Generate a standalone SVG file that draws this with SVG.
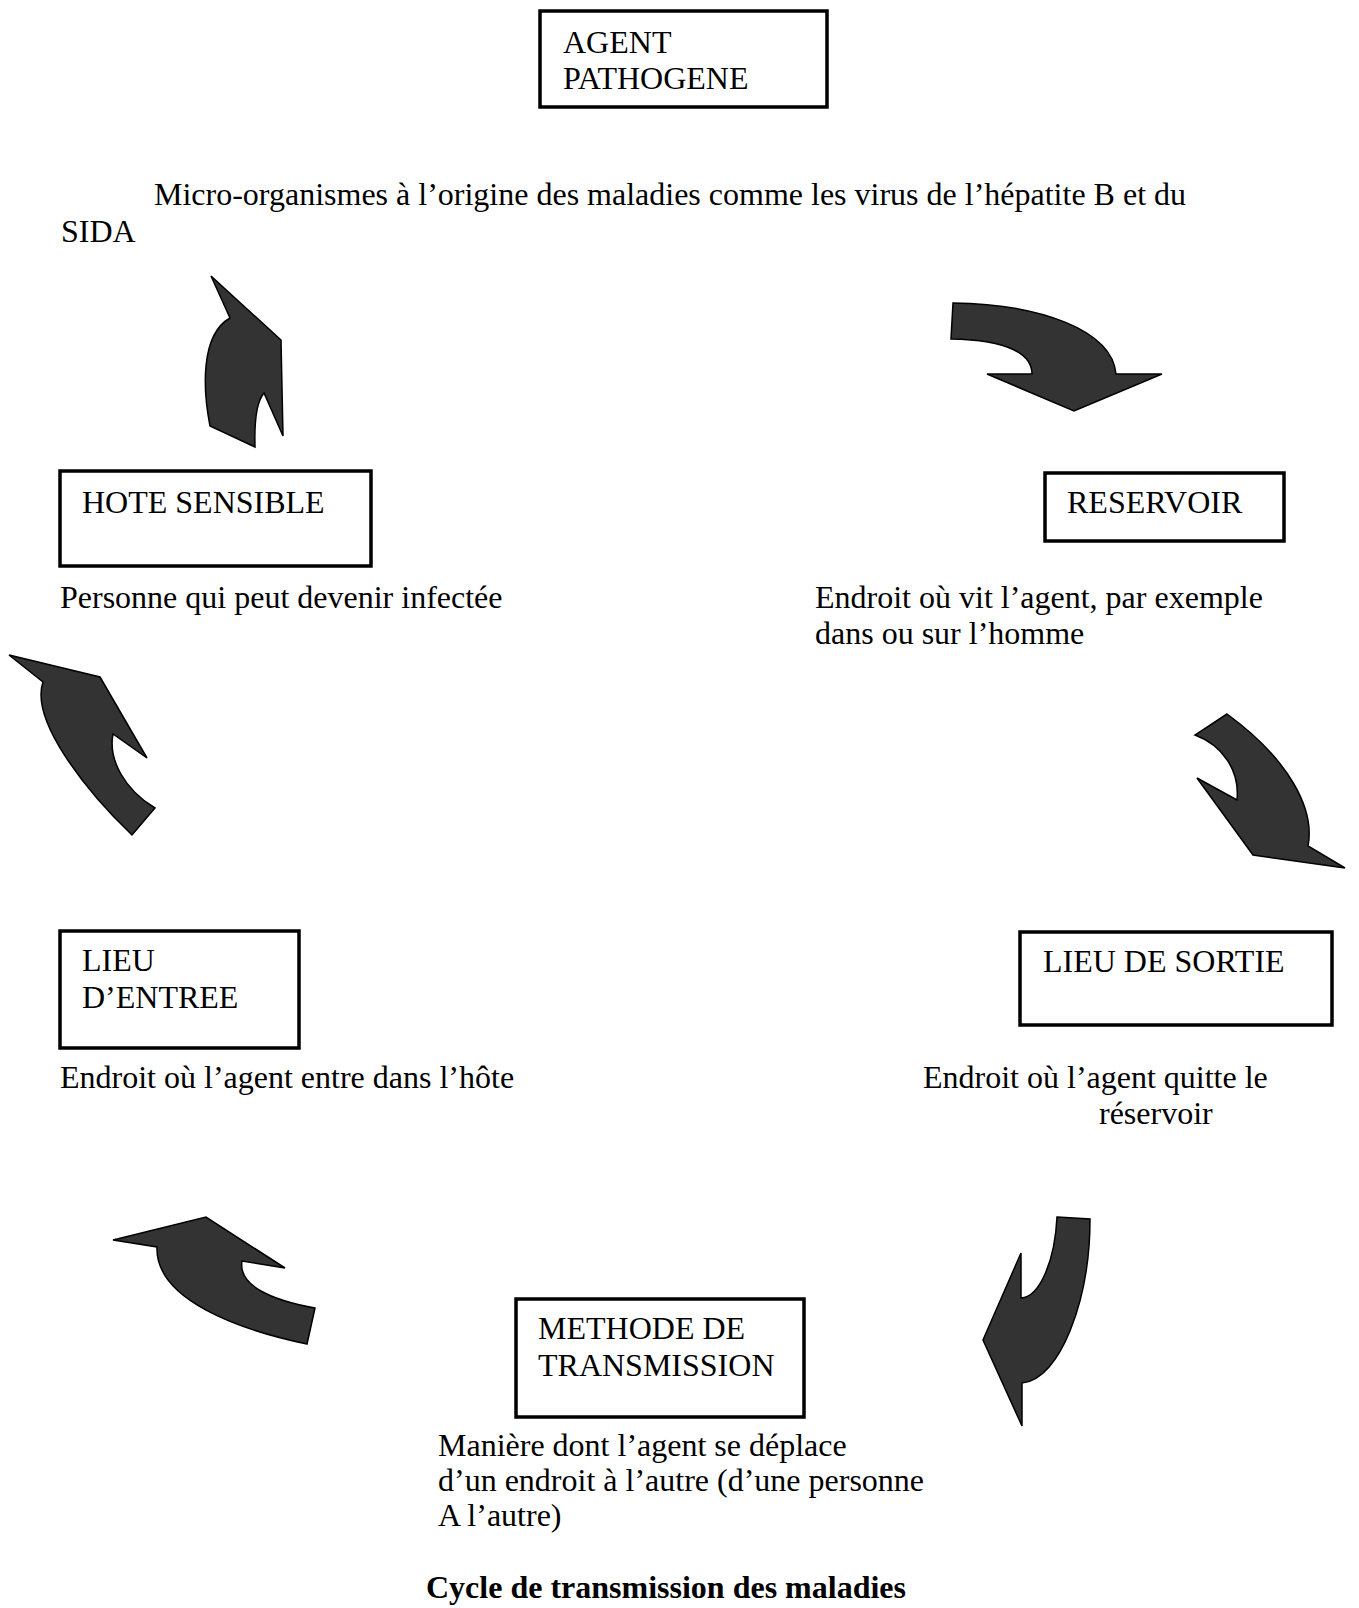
<svg xmlns="http://www.w3.org/2000/svg" width="1359" height="1608" viewBox="0 0 1359 1608">
<style>
.box{fill:#fff;stroke:#000;stroke-width:3.5}
.t{font-family:"Liberation Serif","Times New Roman",serif;font-size:32px;fill:#000}
.b{font-weight:bold}
.arr{fill:#333;stroke:#000;stroke-width:1.5;stroke-linejoin:miter}
</style>
<rect width="1359" height="1608" fill="#fff"/>
<g id="agent">
<rect class="box" x="540" y="11" width="287" height="96"/>
<text class="t" x="563" y="53">AGENT</text>
<text class="t" x="563" y="89">PATHOGENE</text>
</g>
<g id="agent-desc">
<text class="t" x="154" y="205">Micro-organismes à l’origine des maladies comme les virus de l’hépatite B et du</text>
<text class="t" x="61" y="242">SIDA</text>
</g>
<g id="reservoir">
<rect class="box" x="1045" y="473" width="239" height="68"/>
<text class="t" x="1067" y="513">RESERVOIR</text>
<text class="t" x="815" y="608">Endroit où vit l’agent, par exemple</text>
<text class="t" x="815" y="644">dans ou sur l’homme</text>
</g>
<g id="sortie">
<rect class="box" x="1020" y="932" width="312" height="93"/>
<text class="t" x="1043" y="972">LIEU DE SORTIE</text>
<text class="t" x="923" y="1088">Endroit où l’agent quitte le</text>
<text class="t" x="1099" y="1124">réservoir</text>
</g>
<g id="methode">
<rect class="box" x="516" y="1299" width="288" height="118"/>
<text class="t" x="538" y="1339">METHODE DE</text>
<text class="t" x="538" y="1376">TRANSMISSION</text>
<text class="t" x="438" y="1456">Manière dont l’agent se déplace</text>
<text class="t" x="438" y="1491">d’un endroit à l’autre (d’une personne</text>
<text class="t" x="438" y="1526">A l’autre)</text>
</g>
<g id="entree">
<rect class="box" x="60" y="931" width="239" height="117"/>
<text class="t" x="82" y="971">LIEU</text>
<text class="t" x="82" y="1008">D’ENTREE</text>
<text class="t" x="60" y="1088">Endroit où l’agent entre dans l’hôte</text>
</g>
<g id="hote">
<rect class="box" x="60" y="471" width="311" height="95"/>
<text class="t" x="82" y="513">HOTE SENSIBLE</text>
<text class="t" x="60" y="608">Personne qui peut devenir infectée</text>
</g>
<g id="title">
<text class="t b" x="426" y="1598">Cycle de transmission des maladies</text>
</g>
<g id="connectors">
<path class="arr" d="M953,303 C1040,304 1112,330 1116,374 L1162,374 L1074,411 L987,374 L1032,374 C1032,355 1010,340 951,339 Z"/>
<path class="arr" d="M1227,714 L1195,735 C1222,745 1240,770 1237,800 L1197,778 L1253,855 L1345,868 L1308,846 C1315,810 1290,760 1227,714 Z"/>
<path class="arr" d="M1057,1217 L1090,1219 C1090,1300 1060,1380 1022,1383 L1022,1426 L983,1340 L1021,1253 L1021,1298 C1040,1297 1055,1260 1057,1217 Z"/>
<path class="arr" d="M113,1240 L206,1217 L285,1268 L242,1261 C238,1285 270,1300 315,1308 L307,1344 C240,1330 155,1300 157,1247 Z"/>
<path class="arr" d="M9,655 L100,677 L147,758 L113,734 C108,760 125,790 155,808 L132,835 C85,790 30,720 43,682 Z"/>
<path class="arr" d="M211,276 L281,340 L283,436 L264,393 C258,400 254,415 255,447 L210,426 C203,390 200,335 230,318 Z"/>
</g>
</svg>
